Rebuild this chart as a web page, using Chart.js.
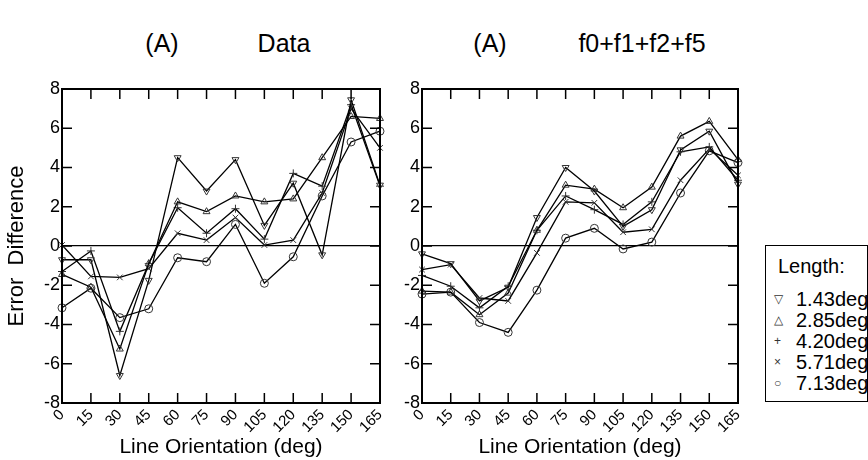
<!DOCTYPE html>
<html>
<head>
<meta charset="utf-8">
<script src="https://cdn.jsdelivr.net/npm/chart.js@4.4.0/dist/chart.umd.min.js"></script>
<style>
  body { margin: 0; background: #fff; }
  #page { position: relative; width: 868px; height: 460px; overflow: hidden; font-family: 'Liberation Sans', Arial, sans-serif; color: #000; }
  .wrap { position: absolute; top: 0; height: 460px; }
  .ttl { position: absolute; font-size: 25px; transform: translate(-50%, -50%); white-space: nowrap; }
  #legend { position: absolute; left: 765px; top: 245px; width: 101px; height: 155px; border: 1.5px solid #000; font-size: 20px; }
  #legend div { position: absolute; white-space: nowrap; line-height: 22px; }
  #legend .mk { position: absolute; left: -22px; font-size: 12px; color: #333; }
</style>
</head>
<body>
<div id="page">
  <div class="ttl" style="left:162px;top:43px">(A)</div>
  <div class="ttl" style="left:284px;top:43px">Data</div>
  <div class="ttl" style="left:490px;top:43px">(A)</div>
  <div class="ttl" style="left:642px;top:43px">f0+f1+f2+f5</div>
  <div class="wrap" style="left:0;width:400px"><canvas id="dataChart" width="400" height="460"></canvas></div>
  <div class="wrap" style="left:400px;width:360px"><canvas id="modelChart" width="360" height="460"></canvas></div>
  <div id="legend"></div>
</div>
<script>
// orientations (deg)
var angles = ['0', '15', '30', '45', '60', '75', '90', '105', '120', '135', '150', '165'];
var lengthLabels = ['1.43deg', '2.85deg', '4.20deg', '5.71deg', '7.13deg'];
var yTicks = [-8, -6, -4, -2, 0, 2, 4, 6, 8];

// (A) Data
var data143 = [-0.7, -0.7, -6.6, -1.75, 4.5, 2.8, 4.4, 1.05, 3.2, -0.45, 7.45, 3.1];
var data285 = [-1.45, -2.1, -5.25, -0.9, 2.25, 1.75, 2.55, 2.25, 2.4, 4.5, 6.6, 6.5];
var data420 = [-1.3, -0.25, -4.35, -0.9, 1.95, 0.65, 1.9, 0.35, 3.7, 3.05, 7.2, 3.05];
var data571 = [0.05, -1.55, -1.6, -1.15, 0.65, 0.3, 1.45, 0.05, 0.3, 2.7, 7.0, 5.0];
var data713 = [-3.15, -2.15, -3.65, -3.2, -0.6, -0.8, 1.1, -1.9, -0.55, 2.55, 5.3, 5.85];

// (A) f0+f1+f2+f5
var model143 = [-0.4, -0.9, -2.8, -2.1, 1.45, 4.0, 2.8, 1.0, 1.85, 4.9, 5.85, 3.15];
var model285 = [-2.3, -2.35, -3.5, -2.4, 0.8, 3.1, 2.9, 1.95, 3.0, 5.6, 6.35, 4.4];
var model420 = [-1.5, -2.05, -3.15, -2.05, 0.8, 2.55, 1.85, 1.1, 2.25, 4.8, 5.05, 3.35];
var model571 = [-1.2, -0.95, -2.65, -2.8, -0.35, 2.25, 2.2, 0.7, 0.85, 3.35, 4.95, 3.6];
var model713 = [-2.45, -2.35, -3.9, -4.4, -2.25, 0.4, 0.9, -0.15, 0.2, 2.7, 4.85, 4.25];

var markers = [
    { style: 'triangle', rot: 180, sym: '\u25BD' },
    { style: 'triangle', rot: 0, sym: '\u25B3' },
    { style: 'cross', rot: 0, sym: '+' },
    { style: 'crossRot', rot: 0, sym: '\u00D7' },
    { style: 'circle', rot: 0, sym: '\u25CB' }
];

Chart.defaults.font.family = "'Liberation Sans', Arial, sans-serif";
Chart.defaults.color = '#000';

// frame + inward tick marks on all four sides
var frameTicks = {
    id: 'frameTicks',
    afterDraw: function(chart) {
        var ctx = chart.ctx, a = chart.chartArea;
        var xs = chart.scales.x, ys = chart.scales.y;
        ctx.save();
        ctx.strokeStyle = '#000';
        ctx.lineWidth = 1.5;
        ctx.beginPath();
        for (var i = 0; i < xs.ticks.length; i++) {
            var px = xs.getPixelForTick(i);
            ctx.moveTo(px, a.bottom); ctx.lineTo(px, a.bottom - 10);
            ctx.moveTo(px, a.top); ctx.lineTo(px, a.top + 10);
        }
        for (var j = 0; j < ys.ticks.length; j++) {
            var py = ys.getPixelForTick(j);
            ctx.moveTo(a.left, py); ctx.lineTo(a.left + 10, py);
            ctx.moveTo(a.right, py); ctx.lineTo(a.right - 10, py);
        }
        ctx.stroke();
        ctx.lineWidth = 2;
        ctx.strokeRect(a.left, a.top, a.right - a.left, a.bottom - a.top);
        ctx.restore();
    }
};

function makeDatasets(series) {
    return series.map(function(values, i) {
        return {
            label: lengthLabels[i],
            data: values,
            borderColor: '#000',
            borderWidth: 1.3,
            backgroundColor: '#fff',
            pointStyle: markers[i].style,
            pointRotation: markers[i].rot,
            pointRadius: 4,
            pointBorderWidth: 1,
            pointBorderColor: '#333',
            pointBackgroundColor: 'rgba(255,255,255,0)',
            tension: 0
        };
    });
}

function makeChart(id, series, yWidth, padRight, showYTitle) {
    var ctx = document.getElementById(id).getContext('2d');
    return new Chart(ctx, {
        type: 'line',
        data: { labels: angles, datasets: makeDatasets(series) },
        plugins: [frameTicks],
        options: {
            responsive: false,
            animation: false,
            layout: { padding: { left: 0, top: 89, right: padRight, bottom: 0 } },
            plugins: { legend: { display: false }, tooltip: { enabled: false } },
            scales: {
                x: {
                    grid: { display: false, drawTicks: false },
                    border: { display: false },
                    ticks: { font: { size: 15 }, minRotation: 45, maxRotation: 45, autoSkip: false, padding: 3 },
                    title: { display: true, text: 'Line Orientation (deg)', font: { size: 21 }, padding: 0 },
                    afterFit: function(s) { s.height = 57; s.paddingLeft = 0; s.paddingRight = 0; }
                },
                y: {
                    min: -8, max: 8,
                    afterBuildTicks: function(s) { s.ticks = yTicks.map(function(v) { return { value: v }; }); },
                    grid: {
                        drawTicks: false,
                        lineWidth: 1.3,
                        color: function(c) { return c.tick && c.tick.value === 0 ? '#000' : 'rgba(0,0,0,0)'; }
                    },
                    border: { display: false },
                    ticks: { font: { size: 18 }, padding: 2 },
                    title: { display: showYTitle, text: 'Error  Difference', font: { size: 22 }, padding: { top: 4, bottom: 0 } },
                    afterFit: function(s) { s.width = yWidth; s.paddingTop = 0; s.paddingBottom = 0; }
                }
            }
        }
    });
}

var dataChart = makeChart('dataChart', [data143, data285, data420, data571, data713], 62, 20, true);
var modelChart = makeChart('modelChart', [model143, model285, model420, model571, model713], 22, 22, false);

// legend box
var legend = document.getElementById('legend');
var head = document.createElement('div');
head.textContent = 'Length:';
head.style.left = '12px';
head.style.top = '9px';
legend.appendChild(head);
lengthLabels.forEach(function(lbl, i) {
    var row = document.createElement('div');
    row.style.left = '30px';
    row.style.top = (42 + i * 21) + 'px';
    row.innerHTML = '<span class="mk">' + markers[i].sym + '</span>' + lbl;
    legend.appendChild(row);
});
</script>
</body>
</html>
